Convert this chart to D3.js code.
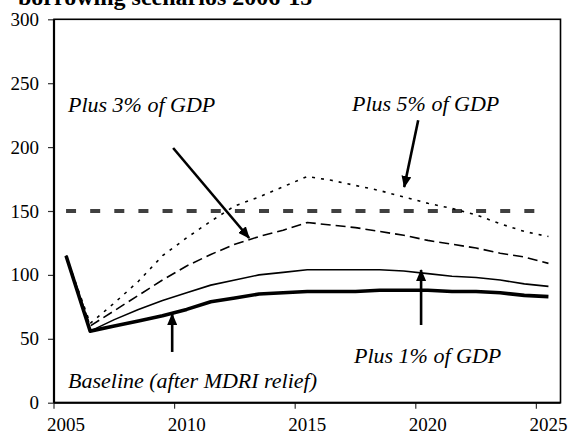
<!DOCTYPE html>
<html>
<head>
<meta charset="utf-8">
<script src="https://cdn.jsdelivr.net/npm/d3@7"></script>
<style>
  body { margin: 0; background: #fff; }
  svg { display: block; }
  text { font-family: "Liberation Serif", "Times New Roman", serif; }
</style>
</head>
<body>
<div id="chart"></div>
<script>
// chart size
const FRAME_WIDTH = 568;
const FRAME_HEIGHT = 435;
const PLOT = {left: 54, right: 560.5, top: 19.3, bottom: 402.7};

// data (debt indicator, %)
const years = [2005, 2006, 2007, 2008, 2009, 2010, 2011, 2012, 2013, 2014, 2015,
               2016, 2017, 2018, 2019, 2020, 2021, 2022, 2023, 2024, 2025];
const baseline = [115, 56, 60, 64, 68, 73, 79, 82, 85, 86, 87,
                  87, 87, 88, 88, 88, 87, 87, 86, 84, 83];
const plus1 = [115, 56, 65, 73, 80, 86, 92, 96, 100, 102, 104,
               104, 104, 104, 103, 101, 99, 98, 96, 93, 91];
const plus3 = [115, 60, 72, 84, 96, 107, 116, 124, 130, 135, 141,
               139, 137, 134, 131, 127, 124, 121, 117, 114, 109];
const plus5 = [115, 62, 78, 95, 115, 129, 142, 154, 161, 169, 177,
               174, 170, 166, 161, 156, 152, 147, 140, 134, 130];
const threshold = 150;
const yTicks = [0, 50, 100, 150, 200, 250, 300];
const xTickYears = [2005, 2010, 2015, 2020, 2025];

const title = "borrowing scenarios 2006-15";

const FRAME = d3.select("#chart")
    .append("svg")
    .attr("width", FRAME_WIDTH)
    .attr("height", FRAME_HEIGHT);

// scales
const X_BAND = d3.scaleBand()
    .domain(years)
    .range([PLOT.left, PLOT.right])
    .padding(0);
const BW = X_BAND.bandwidth();
const X_SCALE = d3.scaleLinear()
    .domain([years[0], years[years.length - 1]])
    .range([X_BAND(years[0]) + BW / 2, X_BAND(years[years.length - 1]) + BW / 2]);
const Y_SCALE = d3.scaleLinear()
    .domain([0, 300])
    .range([PLOT.bottom, PLOT.top]);

// title (cut at top like the original)
FRAME.append("text")
    .attr("x", 18)
    .attr("y", 5)
    .attr("font-size", "24px")
    .attr("font-weight", "bold")
    .text(title);

// frame box
FRAME.append("rect")
    .attr("x", PLOT.left)
    .attr("y", PLOT.top)
    .attr("width", PLOT.right - PLOT.left)
    .attr("height", PLOT.bottom - PLOT.top)
    .attr("fill", "none")
    .attr("stroke", "#000")
    .attr("stroke-width", 1.6);

// y axis
const yAxis = FRAME.append("g")
    .attr("transform", "translate(" + PLOT.left + ",0)")
    .call(d3.axisLeft(Y_SCALE).tickValues(yTicks).tickSize(6).tickPadding(9).tickFormat(d3.format("d")));
yAxis.select(".domain").remove();
yAxis.selectAll(".tick line").attr("stroke", "#333").attr("stroke-width", 1.2);
yAxis.selectAll(".tick text")
    .attr("font-family", "Liberation Serif, serif")
    .attr("font-size", "19px")
    .attr("fill", "#000");

// x axis: ticks on category edges, labels in category centres
const xAxis = FRAME.append("g");
xAxis.selectAll("line.xt")
    .data(xTickYears)
    .enter()
    .append("line")
    .attr("class", "xt")
    .attr("x1", (d) => X_BAND(d))
    .attr("x2", (d) => X_BAND(d))
    .attr("y1", PLOT.bottom)
    .attr("y2", PLOT.bottom + 6)
    .attr("stroke", "#333")
    .attr("stroke-width", 1.2);
xAxis.selectAll("text.xl")
    .data(xTickYears)
    .enter()
    .append("text")
    .attr("class", "xl")
    .attr("x", (d) => X_SCALE(d))
    .attr("y", 431)
    .attr("text-anchor", "middle")
    .attr("font-size", "19px")
    .text((d) => d);

// heavy axis lines
FRAME.append("line")
    .attr("x1", PLOT.left).attr("x2", PLOT.left)
    .attr("y1", PLOT.top).attr("y2", PLOT.bottom)
    .attr("stroke", "#000").attr("stroke-width", 2.2);
FRAME.append("line")
    .attr("x1", PLOT.left).attr("x2", PLOT.right)
    .attr("y1", PLOT.bottom).attr("y2", PLOT.bottom)
    .attr("stroke", "#000").attr("stroke-width", 2);

// threshold
FRAME.append("line")
    .attr("x1", X_SCALE(years[0]))
    .attr("x2", X_SCALE(years[years.length - 1]))
    .attr("y1", Y_SCALE(threshold))
    .attr("y2", Y_SCALE(threshold))
    .attr("stroke", "#404040")
    .attr("stroke-width", 4)
    .attr("stroke-dasharray", "10," + (BW - 10));

// series lines
const line = d3.line()
    .x((d, i) => X_SCALE(years[i]))
    .y((d) => Y_SCALE(d));

const series = [
    {values: plus5, width: 1.6, dash: "3,6"},
    {values: plus3, width: 1.6, dash: "10,5"},
    {values: plus1, width: 1.6, dash: null},
    {values: baseline, width: 3.6, dash: null}
];

FRAME.selectAll("path.series")
    .data(series)
    .enter()
    .append("path")
    .attr("class", "series")
    .attr("d", (d) => line(d.values))
    .attr("fill", "none")
    .attr("stroke", "#000")
    .attr("stroke-width", (d) => d.width)
    .attr("stroke-dasharray", (d) => d.dash)
    .attr("stroke-linejoin", "round");

// arrows (in data coordinates: year, value)
FRAME.append("defs").append("marker")
    .attr("id", "head")
    .attr("markerUnits", "userSpaceOnUse")
    .attr("markerWidth", 12)
    .attr("markerHeight", 10)
    .attr("refX", 11)
    .attr("refY", 5)
    .attr("orient", "auto")
    .append("path")
    .attr("d", "M0,0 L12,5 L0,10 Z")
    .attr("fill", "#000");

const arrows = [
    {from: [2009.44, 199.3], to: [2012.59, 128.9]},
    {from: [2019.6, 221], to: [2019.02, 168.8]},
    {from: [2009.4, 39.7], to: [2009.4, 69.4]},
    {from: [2019.72, 60.8], to: [2019.72, 103.8]}
];

FRAME.selectAll("line.arrow")
    .data(arrows)
    .enter()
    .append("line")
    .attr("class", "arrow")
    .attr("x1", (d) => X_SCALE(d.from[0]))
    .attr("y1", (d) => Y_SCALE(d.from[1]))
    .attr("x2", (d) => X_SCALE(d.to[0]))
    .attr("y2", (d) => Y_SCALE(d.to[1]))
    .attr("stroke", "#000")
    .attr("stroke-width", 2.6)
    .attr("marker-end", "url(#head)");

// labels
const labels = [
    {text: "Plus 3% of GDP", x: 68, y: 112},
    {text: "Plus 5% of GDP", x: 352, y: 111},
    {text: "Plus 1% of GDP", x: 354, y: 363},
    {text: "Baseline (after MDRI relief)", x: 68, y: 388}
];

FRAME.selectAll("text.lab")
    .data(labels)
    .enter()
    .append("text")
    .attr("class", "lab")
    .attr("x", (d) => d.x)
    .attr("y", (d) => d.y)
    .attr("font-size", "22px")
    .attr("font-style", "italic")
    .text((d) => d.text);
</script>
</body>
</html>
